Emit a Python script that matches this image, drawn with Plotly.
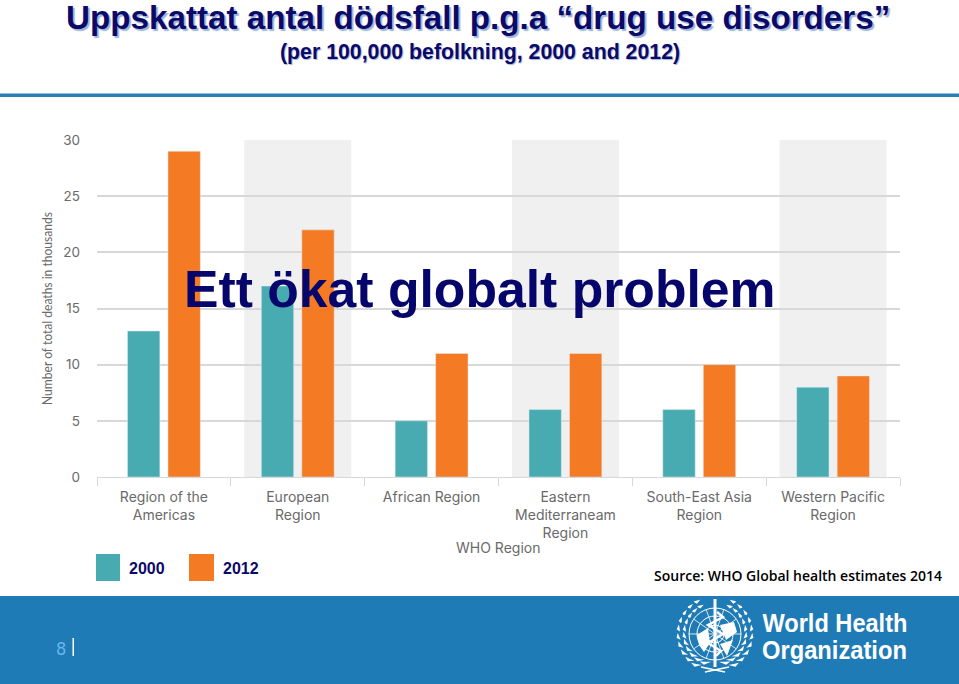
import math
import plotly.graph_objects as go

W, H = 959, 684

# Data
regions = ['Region of the<br>Americas', 'European<br>Region', 'African Region',
           'Eastern<br>Mediterraneam<br>Region', 'South-East Asia<br>Region', 'Western Pacific<br>Region']
deaths_2000 = [13, 17, 5, 6, 6, 8]
deaths_2012 = [29, 22, 11, 11, 10, 9]
y_ticks = [0, 5, 10, 15, 20, 25, 30]

TEAL = '#48abb1'
ORANGE = '#f47a23'
NAVY = '#0b0a68'
BLUE = '#1f7bb6'
GREY = '#6a6a6a'


# pixel position -> paper fraction
def px(x):
    return x / W


def py(y):
    return 1 - y / H


def rect(x0, y0, x1, y1, color):
    return dict(type='rect', xref='paper', yref='paper', x0=px(x0), x1=px(x1), y0=py(y0), y1=py(y1),
                fillcolor=color, line_width=0, layer='above')


def text(x, y, s, size, color, family='Liberation Sans', anchor='center', **kw):
    return dict(x=px(x), y=py(y), xref='paper', yref='paper', text=s, showarrow=False, xanchor=anchor,
                yanchor='middle', font=dict(size=size, color=color, family=family, **kw))


def path(points, close=True):
    d = 'M ' + ' L '.join(f'{px(a):.5f},{py(b):.5f}' for a, b in points)
    return d + (' Z' if close else '')


def poly(points):
    return dict(type='path', xref='paper', yref='paper', path=path(points),
                fillcolor='#ffffff', line_width=0, layer='above')


def stroke(points, width):
    return dict(type='path', xref='paper', yref='paper', path=path(points, close=False),
                line=dict(color='#ffffff', width=width), layer='above')


fig = go.Figure()
fig.add_trace(go.Bar(x=regions, y=deaths_2000, name='2000', marker_color=TEAL))
fig.add_trace(go.Bar(x=regions, y=deaths_2012, name='2012', marker_color=ORANGE))

shapes = []
# grey bands behind every second region
for i in [1, 3, 5]:
    shapes.append(dict(type='rect', xref='x', yref='y', x0=i - 0.4, x1=i + 0.4, y0=0, y1=30,
                       fillcolor='#f0f0f0', line_width=0, layer='below'))

# top rule, footer, legend boxes
shapes.append(rect(0, 93.5, W, 97, '#2b7db4'))
shapes.append(rect(0, 596, W, H, BLUE))
shapes.append(rect(96, 554, 120, 581, TEAL))
shapes.append(rect(189, 554, 214, 581, ORANGE))
shapes.append(rect(72.5, 638, 74, 656, '#ffffff'))

# rough WHO emblem
cx, cy = 715, 634
for r in [9, 18, 26]:
    shapes.append(dict(type='circle', xref='paper', yref='paper', x0=px(cx - r), x1=px(cx + r),
                       y0=py(cy + r), y1=py(cy - r), line=dict(color='#ffffff', width=1), layer='above'))
for deg in [0, 35, 70, 110, 145]:
    a = math.radians(deg)
    shapes.append(stroke([(cx - 26 * math.cos(a), cy - 26 * math.sin(a)),
                          (cx + 26 * math.cos(a), cy + 26 * math.sin(a))], 0.8))
# land
shapes.append(poly([(697, 635), (708, 628), (710, 643), (704, 652), (699, 645)]))
shapes.append(poly([(720, 625), (734, 622), (737, 632), (726, 640)]))
shapes.append(poly([(720, 644), (733, 640), (727, 656)]))
# staff and snake
shapes.append(rect(cx - 1.5, 599, cx + 1.5, 667, '#ffffff'))
shapes.append(stroke([(cx + 2, 612), (cx + 8, 617), (cx - 7, 625), (cx + 8, 634), (cx - 7, 643),
                      (cx + 6, 651), (cx + 1, 656)], 2.4))
# wreath leaves, two rows each side
for side in [-1, 1]:
    for radius, start in [(37, -58), (31, -70)]:
        for deg in range(start, 68, 13):
            a = math.radians(deg)
            lx = cx + side * radius * math.cos(a)
            ly = cy - radius * math.sin(a)
            tx, ty = side * math.sin(a), math.cos(a)
            nx, ny = side * math.cos(a), -math.sin(a)
            shapes.append(poly([(lx - 5 * tx, ly - 5 * ty), (lx + 1.6 * nx, ly + 1.6 * ny),
                                (lx + 5 * tx - side * 2, ly + 5 * ty - 3), (lx - 1.6 * nx, ly - 1.6 * ny)]))
# ribbon under the wreath
shapes.append(stroke([(cx - 14, 667), (cx + 10, 672)], 1.6))
shapes.append(stroke([(cx + 14, 667), (cx - 10, 672)], 1.6))

shadow = '2px 2px 1px #9db4d8'
annotations = [
    text(478, 18, 'Uppskattat antal dödsfall p.g.a “drug use disorders”', 33.2, NAVY,
         'Liberation Sans', weight='bold', shadow=shadow),
    text(480, 52, '(per 100,000 befolkning, 2000 and 2012)', 21.3, NAVY,
         'Liberation Sans', weight='bold', shadow='1px 1px 1px #9db4d8'),
    text(480, 289, 'Ett ökat globalt problem', 51.7, '#05056b', 'Liberation Sans', weight='bold'),
    text(147, 568, '2000', 16, NAVY, 'Liberation Sans', weight='bold'),
    text(241, 568, '2012', 16, NAVY, 'Liberation Sans', weight='bold'),
    text(798, 575, 'Source: WHO Global health estimates 2014', 14, '#000000', 'Open Sans', weight=600),
    text(61, 648, '8', 18, '#69b6ea', 'DejaVu Sans Condensed'),
    text(498, 547, 'WHO Region', 14, GREY, 'Inter'),
    text(834.5, 623, 'World Health', 26, '#ffffff', 'Liberation Sans', weight='bold'),
    text(834.5, 650, 'Organization', 26, '#ffffff', 'Liberation Sans', weight='bold'),
]

fig.update_layout(
    width=W, height=H, margin=dict(l=0, r=0, t=0, b=0, autoexpand=False),
    paper_bgcolor='#ffffff', plot_bgcolor='#ffffff',
    barmode='group', bargap=0.395, bargroupgap=0.2,
    showlegend=False, shapes=shapes, annotations=annotations,
    xaxis=dict(domain=[px(97), px(900)], type='category', tickson='boundaries', ticks='outside', ticklen=8,
               tickcolor='#d5d9dd', linecolor='#d5d9dd', showgrid=False, ticklabelstandoff=7,
               tickfont=dict(family='Inter', size=14, color=GREY), tickangle=0),
    yaxis=dict(domain=[py(477), py(140)], range=[0, 30], tickvals=y_ticks, ticks='', showline=False,
               gridcolor='#d8d8d8', gridwidth=1.5, zeroline=False, ticklabelstandoff=16,
               tickfont=dict(family='Inter', size=13.5, color=GREY),
               title=dict(text='Number of total deaths in thousands', standoff=7,
                          font=dict(family='Lato', size=13.5, color=GREY))),
)

# squeeze the logo wordmark and the y title into their narrow widths
squeeze = """
document.body.style.margin='0';
document.querySelectorAll('.annotation-text').forEach(function(t){
  if (t.textContent === 'World Health' || t.textContent === 'Organization') {
    t.setAttribute('textLength', '145');
    t.setAttribute('lengthAdjust', 'spacingAndGlyphs');
  }
});
var yt = document.querySelector('.ytitle');
if (yt) {
  yt.setAttribute('textLength', '193');
  yt.setAttribute('lengthAdjust', 'spacingAndGlyphs');
}
"""
fig.write_html('out.html', config={'displayModeBar': False}, post_script=squeeze)
